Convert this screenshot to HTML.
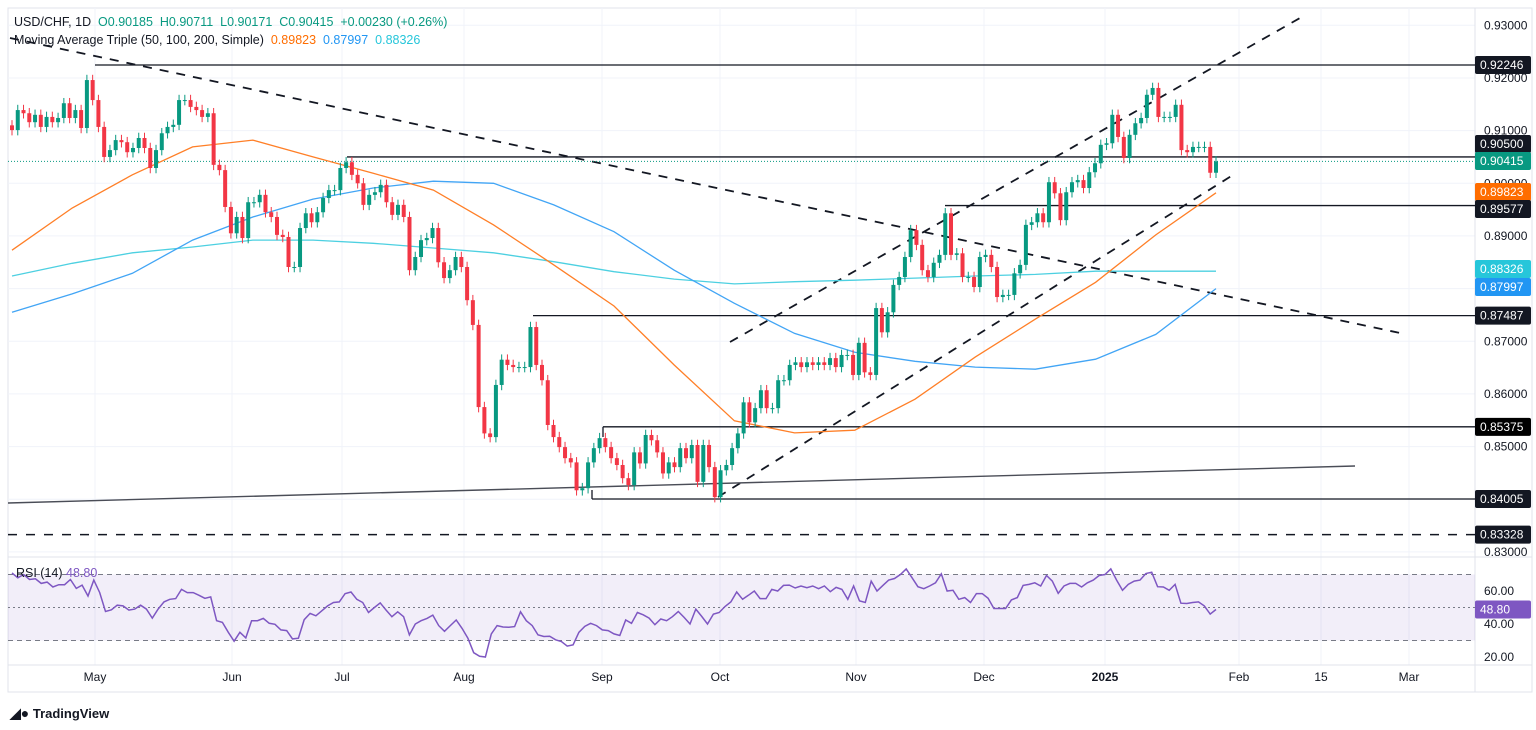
<!DOCTYPE html>
<html><head><meta charset="utf-8">
<style>
html,body{margin:0;padding:0;background:#fff;width:1536px;height:730px;overflow:hidden;font-family:"Liberation Sans",sans-serif;}
#wrap{position:relative;width:1536px;height:730px;}
svg{position:absolute;left:0;top:0;}
.lg{position:absolute;font-size:12.5px;color:#131722;white-space:nowrap;}
</style></head><body>
<div id="wrap">
<svg id="chart" width="1536" height="730"></svg>
<div class="lg" style="left:14px;top:15px">USD/CHF, 1D&nbsp; <span style="color:#089981">O0.90185&nbsp; H0.90711&nbsp; L0.90171&nbsp; C0.90415&nbsp; +0.00230 (+0.26%)</span></div>
<div class="lg" style="left:14px;top:33px">Moving Average Triple (50, 100, 200, Simple)&nbsp; <span style="color:#ff6d00">0.89823</span>&nbsp; <span style="color:#2196f3">0.87997</span>&nbsp; <span style="color:#26c6da">0.88326</span></div>
<div class="lg" style="left:16px;top:566px">RSI (14) <span style="color:#7e57c2">48.80</span></div>
<div class="lg" style="left:10px;top:705px;font-size:13px;font-weight:bold;color:#131722"><span style="font-size:14px">&#9698;&#9679;</span> TradingView</div>
</div>
<script>
const closes=[.9101,.9139,.9133,.9116,.9130,.9107,.9126,.9116,.9124,.9152,
.9124,.9139,.9105,.9196,.9158,.9107,.9050,.9063,.9082,.9078,
.9059,.9067,.9086,.9067,.9029,.9063,.9095,.9107,.9111,.9158,
.9158,.9145,.9139,.9126,.9133,.9035,.9025,.8955,.8905,.8936,
.8896,.8964,.8964,.8978,.8945,.8936,.8902,.8898,.8841,.8841,
.8915,.8943,.8926,.8945,.8972,.8987,.8987,.9029,.9040,.9016,
.9000,.8959,.8978,.8983,.8997,.8964,.8940,.8959,.8936,.8835,
.8860,.8892,.8896,.8915,.8850,.8820,.8835,.8860,.8841,.8778,
.8731,.8575,.8525,.8518,.8617,.8665,.8655,.8651,.8651,.8651,
.8727,.8655,.8626,.8541,.8518,.8499,.8478,.8470,.8417,.8421,
.8470,.8497,.8516,.8499,.8478,
.8465,.8440,.8427,.8489,.8468,.8522,.8512,.8489,.8449,.8470,
.8461,.8497,.8478,.8503,.8433,.8503,.8461,.8404,.8455,.8465,
.8497,.8525,.8584,.8546,.8573,.8607,.8573,.8573,.8626,.8626,
.8655,.8660,.8651,.8660,.8655,.8660,.8655,.8668,.8651,.8674,
.8674,.8636,.8697,.8641,.8636,.8763,.8717,.8755,.8807,.8822,
.8860,.8911,.8883,.8835,.8822,.8849,.8864,.8943,.8864,.8867,
.8822,.8822,.8803,.8860,.8864,.8841,.8784,.8788,.8788,.8829,
.8845,.8921,.8926,.8943,.8926,.9002,.8981,.8930,.8983,.9002,
.9006,.8991,.9021,.9038,.9073,.9076,.9130,.9088,.9048,.9092,
.9114,.9124,.9168,.9181,.9126,.9126,.9126,.9149,.9063,.9059,
.9069,.9069,.9069,.9020,.90415];
const firstOpen=.9110;
const ma50=[.8873,.8953,.9016,.9069,.9082,.9050,.9019,.8987,.8921,.8845,.8767,.8655,.8549,.8526,.8531,.8590,.8670,.8742,.8812,.8902,.8982];
const ma100=[.8755,.8790,.8829,.8892,.8936,.8970,.8991,.9004,.9000,.8959,.8908,.8835,.8772,.8715,.8679,.8662,.8651,.8647,.8666,.8713,.8800];
const ma200=[.8824,.8848,.8868,.8879,.8892,.8892,.8886,.8877,.8868,.8851,.8832,.8818,.8809,.8813,.8816,.8820,.8824,.8827,.8833,.8833,.8833];
const rsi=[71,68,70,67,67.4,64.6,65.4,62.4,63.8,63.8,67,61.6,63.6,57,66.6,59,47.6,48.6,51.4,51,48.4,49,51.4,49,43.6,49,53.4,55,55.4,61,59,59,57.4,55.6,56.4,42,41,35,29.6,35,31.6,42,42,43.4,40.4,39.8,36.4,36,31,31.4,42.6,46.4,45,48,51,53,53.4,58.4,59.4,55,53,47,50,52.8,48.4,44.4,47.4,44.4,33.4,40,42,43.4,45.4,39,35.6,39,42.4,37.4,31.4,22.6,20.4,20,34,39,38.2,38,38.4,47.4,42,39,33.4,32.4,32.6,30.4,29.4,26.6,27.4,35,38.6,40.4,39,36.4,
36,34,33,42.4,40.4,47,45.6,43.6,39.6,43,42,44.4,47.6,44,40,49,44.6,40,46,47,50.6,53.4,59.4,55,57.4,60,55.4,55.4,61,60,63.4,63.6,61.8,63,62,63,61.4,63,59.6,62.2,61,55,63,54,53,66,60,63.4,66.6,67.6,70,73.4,68,62.6,61.4,63,65,70.4,60,60.4,55,56,53,58.4,58.4,55.6,49.4,49.4,49.4,54.6,56,63.4,64,65,63,69.4,66,58.6,63,64.6,64.6,62.4,65,66.6,69.4,70,73.4,66.6,60.4,64,66,66.6,70.6,71.4,62.6,62.4,60.4,64,52.6,52.4,53,53.4,51,46,48.8];
const priceTicks=[0.93,0.92,0.91,0.90,0.89,0.88,0.87,0.86,0.85,0.84,0.83];
const rsiTicks=[60,40,20];
const dateLabels=["May","Jun","Jul","Aug","Sep","Oct","Nov","Dec","2025","Feb","15","Mar"];
const dateX=[95,232,342,464,602,720,856,984,1105,1239,1321,1409];

const NS="http://www.w3.org/2000/svg";
const svg=document.getElementById('chart');
const X0=12,X1=1216,PR=1475;
function yP(p){return 65+(0.92246-p)*5266;}
function yR(v){return 591+(60-v)*1.65;}
function xB(i,n){return X0+i*(X1-X0)/(n-1);}
function mk(tag,attrs,parent){const e=document.createElementNS(NS,tag);for(const k in attrs)e.setAttribute(k,attrs[k]);(parent||svg).appendChild(e);return e;}

let e=mk('rect',{x:8,y:8,width:1524,height:684,fill:'none',stroke:'#e0e3eb'});


priceTicks.forEach(p=>{const g=mk('line',{x1:8,x2:PR,y1:yP(p),y2:yP(p),stroke:'#f0f3fa'});

});
dateX.forEach(x=>{const g=mk('line',{x1:x,x2:x,y1:8,y2:665,stroke:'#f0f3fa'});

});
e=mk('line',{x1:8,x2:1532,y1:557,y2:557,stroke:'#e0e3eb'});


e=mk('line',{x1:PR,x2:PR,y1:8,y2:692,stroke:'#e0e3eb'});


e=mk('line',{x1:8,x2:1532,y1:665,y2:665,stroke:'#e0e3eb'});



e=mk('rect',{x:8,y:yR(70),width:PR-8,height:yR(30)-yR(70),fill:'#7e57c2','fill-opacity':0.1});


[70,30].forEach(v=>{const l=mk('line',{x1:8,x2:PR,y1:yR(v),y2:yR(v),stroke:'#787b86','stroke-dasharray':'5,4'});

});
e=mk('line',{x1:8,x2:PR,y1:yR(50),y2:yR(50),stroke:'#787b86','stroke-dasharray':'2,3'});



function seg(x1,y1,x2,y2,name,dash,col,w){const l=mk('line',{x1,y1,x2,y2,stroke:col||'#131722','stroke-width':w||1.3});if(dash)l.setAttribute('stroke-dasharray',dash);

}
seg(95,yP(0.92246),PR,yP(0.92246),'resistance-92246');
seg(347,yP(0.905),PR,yP(0.905),'resistance-90500');
seg(945,yP(0.89577),PR,yP(0.89577),'support-89577');
seg(533,yP(0.87487),PR,yP(0.87487),'level-87487');
seg(603,yP(0.85375),PR,yP(0.85375),'level-85375');
seg(603,yP(0.85375),603,437,'level-85375-tick');
seg(592,yP(0.84005),PR,yP(0.84005),'support-84005');
seg(592,490,592,yP(0.84005),'support-84005-tick');
seg(8,yP(0.83328),PR,yP(0.83328),'level-83328','9,9',null,1.6);
seg(10,38,1400,333,'descending-trendline','9,8',null,1.8);
seg(730,342,1300,18,'channel-upper','9,8',null,1.8);
seg(718,497,1233,175,'channel-lower','9,8',null,1.8);
seg(8,503,1355,466,'long-support-line',null,'#4a4d57',1.4);
e=mk('line',{x1:8,x2:PR,y1:yP(0.90415),y2:yP(0.90415),stroke:'#089981','stroke-dasharray':'1,2'});



function maLine(arr,col,name){const n=closes.length;let d='';arr.forEach((v,k)=>{const x=xB(k*(n-1)/(arr.length-1),n);d+=(k?'L':'M')+x.toFixed(1)+','+yP(v).toFixed(1);});
const p=mk('path',{d,fill:'none',stroke:col,'stroke-width':1.3});

}
maLine(ma200,'#4dd0e1','sma-200-line');
maLine(ma100,'#42a5f5','sma-100-line');
maLine(ma50,'#ff7f27','sma-50-line');

const N=closes.length;
closes.forEach((c,i)=>{const o=i?closes[i-1]:firstOpen;const up=c>=o;const col=up?'#089981':'#f23645';const x=xB(i,N);
const hi=Math.max(o,c)+0.0010,lo=Math.min(o,c)-0.0010;
const w=mk('line',{x1:x,x2:x,y1:yP(hi),y2:yP(lo),stroke:col,'stroke-width':1});


const t=Math.min(yP(o),yP(c));const h=Math.max(1,Math.abs(yP(o)-yP(c)));
const b=mk('rect',{x:x-2,y:t,width:4,height:h,fill:col});

});

let d='';rsi.forEach((v,i)=>{d+=(i?'L':'M')+xB(i,rsi.length).toFixed(1)+','+yR(v).toFixed(1);});
e=mk('path',{d,fill:'none',stroke:'#7e57c2','stroke-width':1.5});



function txt(x,y,s,name,attrs){const t=mk('text',Object.assign({x,y,'font-size':12,fill:'#131722','font-family':'Liberation Sans, sans-serif'},attrs||{}));t.textContent=s;

return t;}
priceTicks.forEach(p=>txt(1484,yP(p)+4,p.toFixed(5),'price-tick-label'));
rsiTicks.forEach(v=>txt(1484,yR(v)+4,v.toFixed(2),'rsi-tick-label'));
dateLabels.forEach((s,i)=>txt(dateX[i],681,s,'date-label',{'text-anchor':'middle','font-weight':s==='2025'?'bold':'normal'}));

function badge(y,s,bg,name){const r=mk('rect',{x:PR,y:y-9,width:56,height:18,fill:bg,rx:2});


txt(1480,y+4,s,name+'-text',{fill:'#fff'});}
badge(yP(0.92246),'0.92246','#131722','badge-92246');
badge(144,'0.90500','#131722','badge-90500');
badge(161,'0.90415','#089981','badge-last-price');
badge(192,'0.89823','#ff6d00','badge-sma50');
badge(209,'0.89577','#131722','badge-89577');
badge(269,'0.88326','#26c6da','badge-sma200');
badge(287,'0.87997','#2196f3','badge-sma100');
badge(yP(0.87487),'0.87487','#131722','badge-87487');
badge(yP(0.85375),'0.85375','#000','badge-85375');
badge(yP(0.84005),'0.84005','#131722','badge-84005');
badge(yP(0.83328),'0.83328','#131722','badge-83328');
badge(yR(48.8),'48.80','#7e57c2','badge-rsi');
</script>
</body></html>
